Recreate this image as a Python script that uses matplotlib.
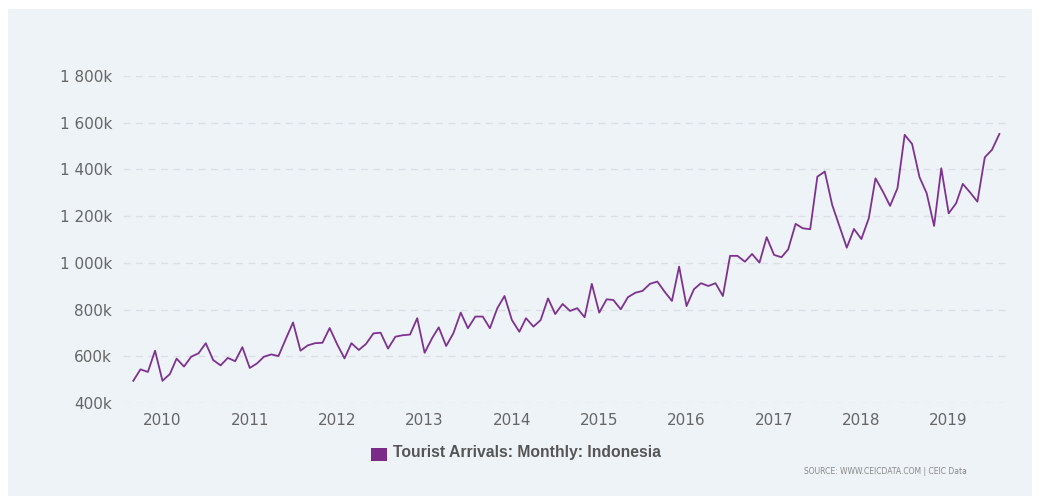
import matplotlib
matplotlib.use("Agg")
import matplotlib.pyplot as plt
from matplotlib.patches import Rectangle
import pandas as pd

# ---- data (thousands of arrivals), monthly Sep 2009 .. Aug 2019 ----
start_month = "2009-09-01"
v2009 = [495, 544, 533, 624]
v2010 = [495, 524, 590, 556, 598, 613, 656, 584, 561, 593, 579, 639]
v2011 = [550, 570, 598, 608, 601, 675, 745, 624, 647, 656, 658, 721]
v2012 = [652, 591, 656, 627, 653, 698, 701, 633, 684, 690, 693, 763]
v2013 = [615, 677, 724, 644, 698, 787, 720, 770, 770, 720, 806, 858]
v2014 = [755, 705, 763, 727, 755, 848, 781, 824, 794, 806, 767, 910]
v2015 = [787, 844, 841, 801, 853, 872, 880, 910, 920, 877, 837, 984]
v2016 = [815, 887, 913, 901, 913, 858, 1030, 1030, 1005, 1038, 1001, 1110]
v2017 = [1034, 1024, 1058, 1167, 1148, 1144, 1369, 1391, 1248, 1158, 1065, 1145]
v2018 = [1102, 1191, 1362, 1305, 1244, 1320, 1548, 1509, 1367, 1298, 1158, 1405]
v2019 = [1212, 1255, 1338, 1301, 1262, 1452, 1484, 1552]

values_k = v2009 + v2010 + v2011 + v2012 + v2013 + v2014 + v2015 + v2016 + v2017 + v2018 + v2019
years = [2010, 2011, 2012, 2013, 2014, 2015, 2016, 2017, 2018, 2019]
yticks_k = [400, 600, 800, 1000, 1200, 1400, 1600, 1800]
series_name = "Tourist Arrivals: Monthly: Indonesia"
source_text = "SOURCE: WWW.CEICDATA.COM | CEIC Data"

dates = pd.date_range(start_month, periods=len(values_k), freq="MS")
values = [v * 1000 for v in values_k]

W, H = 1040, 501
fig = plt.figure(figsize=(W / 100, H / 100), dpi=100)
fig.patch.set_facecolor("white")
panel_color = "#eef3f8"
fig.patches.append(Rectangle((8 / W, 5 / H), 1024 / W, 487 / H,
                             transform=fig.transFigure, facecolor=panel_color,
                             edgecolor="none", zorder=-10))

ax = fig.add_axes([123 / W, (H - 403) / H, (1008 - 123) / W, (403 - 76) / H])
ax.set_zorder(1)
ax.set_facecolor("none")

line_color = "#7e3290"
ax.plot(dates, values, color=line_color, linewidth=1.3, zorder=3)

ax.set_xlim(pd.Timestamp("2009-07-20"), pd.Timestamp("2019-09-06"))
ax.set_ylim(yticks_k[0] * 1000, yticks_k[-1] * 1000)

ax.set_yticks([t * 1000 for t in yticks_k])
ax.set_yticklabels([f"{t:,}".replace(",", " ") + "k" for t in yticks_k])
ax.set_xticks([pd.Timestamp(f"{y}-01-01") for y in years])
ax.set_xticklabels([str(y) for y in years])

ax.tick_params(axis="both", length=0, colors="#666666", labelsize=11)
ax.tick_params(axis="y", pad=8)
ax.tick_params(axis="x", pad=7)
ax.grid(axis="y", color="#d9dfe5", linestyle=(0, (5, 4)), linewidth=1)
ax.grid(axis="x", visible=False)
for s in ax.spines.values():
    s.set_visible(False)

# legend
fig.patches.append(Rectangle((371 / W, (H - 461) / H), 16 / W, 13 / H,
                             transform=fig.transFigure, facecolor="#7a2a87",
                             edgecolor="none", zorder=5))
fig.text(393 / W, (H - 453) / H, series_name, ha="left", va="center",
         fontsize=11.3, fontweight="bold", color="#555555",
         family=["Liberation Sans", "DejaVu Sans"])
fig.text(967 / W, (H - 472) / H, source_text, ha="right", va="center",
         fontsize=5.5, color="#888888")

fig.savefig("out.png", dpi=100, facecolor=fig.get_facecolor())
